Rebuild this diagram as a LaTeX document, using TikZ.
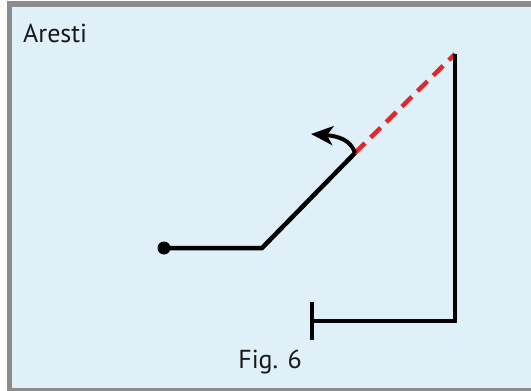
\documentclass[tikz,border=0pt]{standalone}
\usepackage{fontspec}
\setmainfont{PT Sans}
\usepackage{xcolor}
\usetikzlibrary{arrows.meta}
\definecolor{panelBlue}{HTML}{E0F0F8}
\definecolor{frameGray}{HTML}{8C8C8C}
\definecolor{lineRed}{HTML}{E0282E}

\tikzset{
  figline/.style={line width=4.5pt, black, line join=miter},
  reddash/.style={line width=4.5pt, lineRed, dash pattern=on 14pt off 8pt},
  label/.style={font=\fontsize{26}{30}\selectfont, text=black!90, inner sep=0pt}
}

\begin{document}
\begin{tikzpicture}[x=1pt, y=-1pt]
  \useasboundingbox (0,0) rectangle (531,391);
  % Panel
  \fill[white] (0,0) rectangle (531,391);
  \fill[frameGray] (7,1) rectangle (531,391);
  \fill[panelBlue] (12,7) rectangle (531,388);

  % Labels
  \node[label, anchor=base west] (title) at (23,42) {Aresti};
  \node[label, anchor=base] (caption) at (270,368) {Fig. 6};

  % Figure points
  \coordinate (entry) at (164,248);
  \coordinate (knee) at (262,248);
  \coordinate (turn) at (355,153);
  \coordinate (top) at (455,54);
  \coordinate (corner) at (455,321);
  \coordinate (exit) at (312,321);
  \coordinate (tip) at (311,134);

  % Flight line
  \fill (entry) circle (6.5);
  \draw[figline] (entry) -- (knee) -- (turn);
  \draw[reddash] (turn) -- (top);
  \draw[figline] (top) -- (corner) -- (exit);
  \draw[line width=4.5pt] (exit) ++(0,-19) coordinate (barTop) -- ++(0,38) coordinate (barBot);

  % Rotation arrow
  \draw[line width=4pt, -{Stealth[length=22pt, width=19pt, inset=6pt]}]
    (turn) .. controls (351,140) and (338,136) .. (tip);
\end{tikzpicture}
\end{document}
